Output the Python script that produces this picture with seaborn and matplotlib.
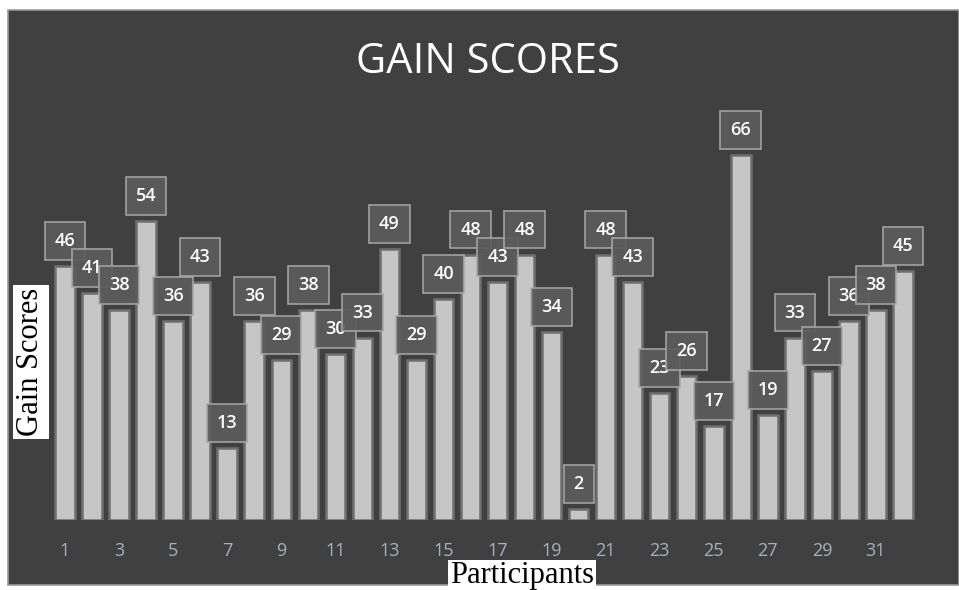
import matplotlib
matplotlib.use("Agg")
import matplotlib.pyplot as plt
import matplotlib.patches as mpatches
import pandas as pd
import seaborn as sns

participants = [str(i) for i in range(1, 33)]
gain_scores = [46, 41, 38, 54, 36, 43, 13, 36, 29, 38, 30, 33, 49, 29, 40, 48,
               43, 48, 34, 2, 48, 43, 23, 26, 17, 66, 19, 33, 27, 36, 38, 45]
tick_labels = [str(i) if i % 2 == 1 else "" for i in range(1, 33)]

df = pd.DataFrame({"Participants": participants, "Gain Scores": gain_scores})

sns.set_theme(style="dark")
plt.rcParams["font.family"] = ["Open Sans", "DejaVu Sans"]

W, H = 959, 590
fig = plt.figure(figsize=(W / 100, H / 100), dpi=100)
fig.patch.set_facecolor("white")

# dark panel behind the chart
panel = mpatches.Rectangle((8 / W, 1 - 585 / H), 951 / W, 575 / H,
                           transform=fig.transFigure, facecolor="#404040",
                           edgecolor="#9a9a9a", linewidth=1.2, zorder=-10)
fig.patches.append(panel)

ax = fig.add_axes([40 / W, (H - 520) / H, 895 / W, 420 / H])
ax.set_facecolor("none")

sns.barplot(data=df, x="Participants", y="Gain Scores", color="#c6c6c6",
            width=0.72, edgecolor="#6f6f6f", linewidth=1.8, saturation=1,
            ax=ax, zorder=3)

ax.set_xlim(-25 / 27.03, 31 + 32 / 27.03)
ax.set_ylim(0, 420 / 5.53)

for i, v in enumerate(gain_scores):
    ax.annotate(f"{v}", xy=(i, v), xytext=(0, 18), textcoords="offset points",
                ha="center", va="center", fontsize=13, fontweight="semibold",
                color="white", zorder=5,
                bbox=dict(boxstyle="square,pad=0.55", facecolor="#5c5c5c",
                          edgecolor="#a8a8a8", linewidth=1.2, alpha=0.92))

ax.set_xticks(range(32))
ax.set_xticklabels(tick_labels, color="#a9b0bd", fontsize=13)
ax.tick_params(axis="x", length=0, pad=16)
ax.set_yticks([])
ax.set_xlabel("")
ax.set_ylabel("")
ax.grid(False)
for s in ax.spines.values():
    s.set_visible(False)

fig.text(488 / W, 1 - 62 / H, "GAIN SCORES", ha="center", va="center",
         fontsize=30, color="white")

fig.text(31 / W, 1 - 362 / H, "Gain Scores", ha="center", va="center",
         rotation=90, fontsize=22, color="black", family="Liberation Serif",
         bbox=dict(boxstyle="square,pad=0.1", facecolor="white", edgecolor="none"))
fig.text(522 / W, 1 - 576 / H, "Participants", ha="center", va="center",
         fontsize=22, color="black", family="Liberation Serif",
         bbox=dict(boxstyle="square,pad=0.05", facecolor="white", edgecolor="none"))

fig.savefig("out.png", dpi=100)
